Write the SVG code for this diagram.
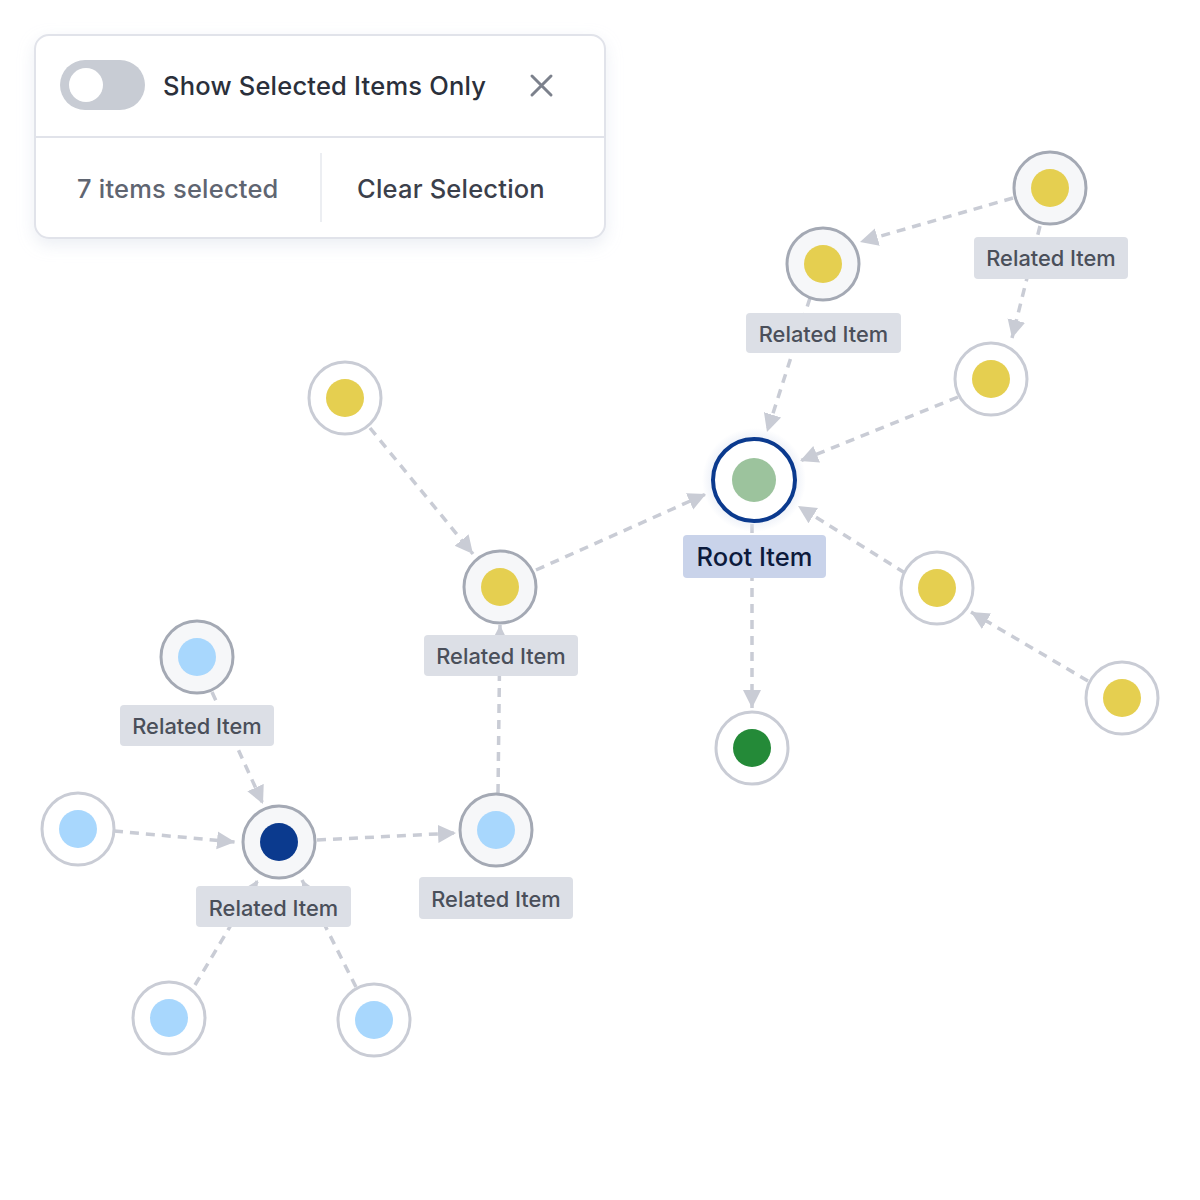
<svg xmlns="http://www.w3.org/2000/svg" width="1200" height="1200" viewBox="0 0 1200 1200">
<style>
.edge{fill:none;stroke:#c9ccd5;stroke-width:3.5;stroke-dasharray:9 7;marker-end:url(#arr)}
.ringD{fill:#f6f7f9;stroke:#a4a9b4;stroke-width:3}
.ringL{fill:#ffffff;stroke:#c9ccd5;stroke-width:3}
.lbl{fill:#dcdfe6}
.lt{font-family:Inter,"Liberation Sans",sans-serif;font-size:21.8px;font-weight:500;fill:#4a4f5a;text-anchor:middle}
.yel{fill:#e5cf50}
.blu{fill:#a8d7fd}
.ptext{font-family:Inter,"Liberation Sans",sans-serif;font-size:25.5px;font-weight:500;letter-spacing:0.2px}
</style>
<defs>
<marker id="arr" markerUnits="userSpaceOnUse" markerWidth="20" markerHeight="20" refX="18" refY="9" orient="auto" viewBox="0 0 20 18">
<path d="M0,0 L18,9 L0,18 Z" fill="#c9ccd5"/>
</marker>
<filter id="sh" x="-10%" y="-20%" width="120%" height="150%">
<feDropShadow dx="0" dy="6" stdDeviation="8" flood-color="#c8d0e0" flood-opacity="0.35"/>
</filter>
<radialGradient id="glow">
<stop offset="0.7" stop-color="#e6ebf5" stop-opacity="1"/>
<stop offset="1" stop-color="#e6ebf5" stop-opacity="0"/>
</radialGradient>
</defs>
<rect width="1200" height="1200" fill="#ffffff"/>

<g id="panel">
<rect x="35" y="35" width="570" height="203" rx="14" fill="#ffffff" stroke="#e1e3ea" stroke-width="2" filter="url(#sh)"/>
<line x1="36" y1="137" x2="604" y2="137" stroke="#e1e3ea" stroke-width="2"/>
<line x1="321" y1="153" x2="321" y2="222" stroke="#eceef2" stroke-width="2"/>
<rect x="60" y="60" width="85" height="50" rx="25" fill="#c8ccd4"/>
<circle cx="86" cy="85" r="17" fill="#ffffff"/>
<text x="163" y="95" class="ptext" fill="#2b303b">Show Selected Items Only</text>
<path d="M532,76 L551,95 M551,76 L532,95" stroke="#7c818c" stroke-width="3" stroke-linecap="round"/>
<text x="77" y="198" class="ptext" fill="#5f6571">7 items selected</text>
<text x="357" y="198" class="ptext" fill="#3b404b">Clear Selection</text>
</g>

<g id="connectors">
<line class="edge" x1="1013" y1="198" x2="860" y2="242"/>
<line class="edge" x1="1040" y1="226" x2="1012" y2="338"/>
<line class="edge" x1="810" y1="298" x2="767" y2="432"/>
<line class="edge" x1="958" y1="397" x2="800" y2="461"/>
<line class="edge" x1="370" y1="428" x2="473" y2="554"/>
<line class="edge" x1="536" y1="570" x2="706" y2="494"/>
<line class="edge" x1="905" y1="573" x2="798" y2="506"/>
<line class="edge" x1="1088" y1="681" x2="971" y2="612"/>
<line class="edge" x1="752" y1="524" x2="752" y2="708"/>
<line class="edge" x1="212" y1="692" x2="263" y2="804"/>
<line class="edge" x1="114" y1="831" x2="235" y2="842"/>
<line class="edge" x1="317" y1="840" x2="456" y2="833"/>
<line class="edge" x1="498" y1="793" x2="500" y2="625"/>
<line class="edge" x1="195" y1="985" x2="258" y2="880"/>
<line class="edge" x1="356" y1="987" x2="302" y2="880"/>
</g>

<g id="n-root">
<circle cx="754" cy="480" r="52" fill="url(#glow)"/>
<circle cx="754" cy="480" r="41" fill="#ffffff" stroke="#0b3a8e" stroke-width="4"/>
<circle cx="754" cy="480" r="22" fill="#9cc39d"/>
<rect x="683" y="535" width="143" height="43" rx="4" fill="#c9d3ea"/>
<text x="754.5" y="566" class="ptext" fill="#0c1a3c" text-anchor="middle" style="letter-spacing:0">Root Item</text>
</g>
<g id="n2">
<circle cx="1050" cy="188" r="36" class="ringD"/>
<circle cx="1050" cy="188" r="19" class="yel"/>
<rect x="974" y="237" width="154" height="42" rx="4" class="lbl"/>
<text x="1051" y="265.5" class="lt">Related Item</text>
</g>
<g id="n3">
<circle cx="823" cy="264" r="36" class="ringD"/>
<circle cx="823" cy="264" r="19" class="yel"/>
<rect x="746" y="313" width="155" height="40" rx="4" class="lbl"/>
<text x="823.5" y="341.5" class="lt">Related Item</text>
</g>
<g id="n4">
<circle cx="991" cy="379" r="36" class="ringL"/>
<circle cx="991" cy="379" r="19" class="yel"/>
</g>
<g id="n5">
<circle cx="345" cy="398" r="36" class="ringL"/>
<circle cx="345" cy="398" r="19" class="yel"/>
</g>
<g id="n6">
<circle cx="500" cy="587" r="36" class="ringD"/>
<circle cx="500" cy="587" r="19" class="yel"/>
<rect x="424" y="635" width="154" height="41" rx="4" class="lbl"/>
<text x="501" y="663.5" class="lt">Related Item</text>
</g>
<g id="n7">
<circle cx="937" cy="588" r="36" class="ringL"/>
<circle cx="937" cy="588" r="19" class="yel"/>
</g>
<g id="n8">
<circle cx="1122" cy="698" r="36" class="ringL"/>
<circle cx="1122" cy="698" r="19" class="yel"/>
</g>
<g id="n9">
<circle cx="752" cy="748" r="36" class="ringL"/>
<circle cx="752" cy="748" r="19" fill="#248a38"/>
</g>
<g id="n10">
<circle cx="197" cy="657" r="36" class="ringD"/>
<circle cx="197" cy="657" r="19" class="blu"/>
<rect x="120" y="705" width="154" height="41" rx="4" class="lbl"/>
<text x="197" y="733.5" class="lt">Related Item</text>
</g>
<g id="n11">
<circle cx="78" cy="829" r="36" class="ringL"/>
<circle cx="78" cy="829" r="19" class="blu"/>
</g>
<g id="n12">
<circle cx="279" cy="842" r="36" class="ringD"/>
<circle cx="279" cy="842" r="19" fill="#0b3a8e"/>
<rect x="196" y="886" width="155" height="41" rx="4" class="lbl"/>
<text x="273.5" y="915.5" class="lt">Related Item</text>
</g>
<g id="n13">
<circle cx="496" cy="830" r="36" class="ringD"/>
<circle cx="496" cy="830" r="19" class="blu"/>
<rect x="419" y="877" width="154" height="42" rx="4" class="lbl"/>
<text x="496" y="906.5" class="lt">Related Item</text>
</g>
<g id="n14">
<circle cx="169" cy="1018" r="36" class="ringL"/>
<circle cx="169" cy="1018" r="19" class="blu"/>
</g>
<g id="n15">
<circle cx="374" cy="1020" r="36" class="ringL"/>
<circle cx="374" cy="1020" r="19" class="blu"/>
</g>
</svg>
